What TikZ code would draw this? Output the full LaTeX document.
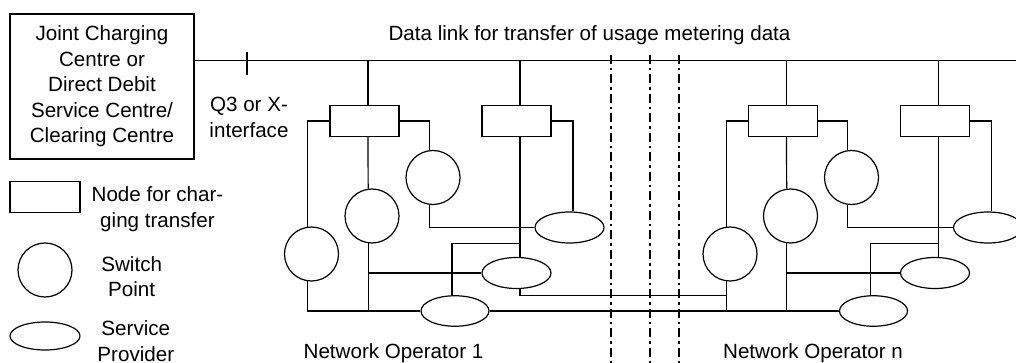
\documentclass[tikz,border=0pt]{standalone}
\usepackage{fontspec}
\setmainfont{Liberation Sans}
\usepackage{tikz}
\usetikzlibrary{positioning,shapes.geometric}

\begin{document}
\begin{tikzpicture}[x=1pt,y=-1pt,line width=1.2pt,
    font=\fontsize{20.6}{25.5}\selectfont,
    nt/.style={draw,rectangle,inner sep=0pt,minimum width=69pt,minimum height=30.5pt},
    sw/.style={draw,circle,inner sep=0pt,minimum size=54pt},
    sp/.style={draw,ellipse,inner sep=0pt,minimum width=69pt,minimum height=31pt},
    sep/.style={line width=2pt,dash pattern=on 9pt off 4pt on 2.5pt off 4pt}]
  \useasboundingbox (0,0) rectangle (1016,363);
  \clip (0,0) rectangle (1016,363);
  % charging centre and data link
  \node[draw,align=center,inner sep=0pt,minimum width=184pt,minimum height=145pt] (jcc) at (102,86.5)
    {Joint Charging\\Centre or\\Direct Debit\\Service Centre/\\Clearing Centre};
  \coordinate (lnE) at (1016,60.5);
  \coordinate (tick) at (247,60.5);
  \draw (jcc.east |- lnE) -- (lnE);
  \draw ([yshift=8.5pt]tick) -- ([yshift=-14.5pt]tick);
  \node[align=center] (q3) at (249,117.5) {Q3 or X-\\interface};
  \node[anchor=base] (dl) at (589.5,41) {Data link for transfer of usage metering data};
  % legend
  \node[nt,minimum width=70pt] (lgR) at (45,197) {};
  \node[sw] (lgC) at (45,270) {};
  \node[sp,minimum width=70pt,minimum height=28pt] (lgE) at (45,336) {};
  \node[align=center] (lgRt) at (157.5,209) {Node for char-\\ging transfer};
  \node[align=center] (lgCt) at (131.7,276.7) {Switch\\Point};
  \node[align=center,inner sep=0pt] (lgEt) at (135.8,341) {Service\\Provider};
  % network operators
  \foreach \dx/\op in {0/l,418.5/r} {
    \node[nt] (nt1-\op) at (\dx+364.5,121) {};
    \node[nt] (nt2-\op) at (\dx+516.5,121) {};
    \node[sw] (swa-\op) at (\dx+311.5,254) {};
    \node[sw] (swb-\op) at (\dx+372,216) {};
    \node[sw] (swc-\op) at (\dx+433,177.5) {};
    \node[sp] (spa-\op) at (\dx+569.5,227.5) {};
    \node[sp] (spb-\op) at (\dx+516.5,273) {};
    \node[sp,minimum width=68pt,minimum height=30.5pt] (spc-\op) at (\dx+455,311) {};
    \draw ([xshift=3.5pt]nt1-\op.north) -- ([xshift=3.5pt]nt1-\op.north |- lnE);
    \draw ([xshift=3.5pt]nt2-\op.north) -- ([xshift=3.5pt]nt2-\op.north |- lnE);
    \draw (nt1-\op.west) -| (swa-\op.98);
    \draw (swa-\op.262) |- (spc-\op.west);
    \draw ([xshift=3.5pt]nt1-\op.south) -- (swb-\op.98);
    \draw (swb-\op.262) -- (swb-\op.262 |- spc-\op.west);
    \draw (swb-\op.262 |- spb-\op.west) -- (spb-\op.west);
    \draw (nt1-\op.east) -| (swc-\op.98);
    \draw (swc-\op.262) |- (spa-\op.west);
    \draw ([xshift=3.5pt]nt2-\op.south) -- ([xshift=3.5pt]spb-\op.north);
    \draw ([xshift=-3pt]spc-\op.north) |- ([xshift=3.5pt]spb-\op.north |- spa-\op.south);
    \draw (nt2-\op.east) -| ([xshift=3.5pt]spa-\op.north);
  }
  % links between operators
  \draw ([xshift=3.5pt]spb-l.south) |- (swa-r.262 |- spc-l.north);
  \draw (spc-l.east) -- (swa-r.262 |- spc-l.east);
  \foreach \x in {610.7,650,679} \draw[sep] (\x,55) -- (\x,363);
  \node[anchor=base] (op1) at (393.5,358) {Network Operator 1};
  \node[anchor=base] (opn) at (813,358) {Network Operator n};
\end{tikzpicture}
\end{document}
